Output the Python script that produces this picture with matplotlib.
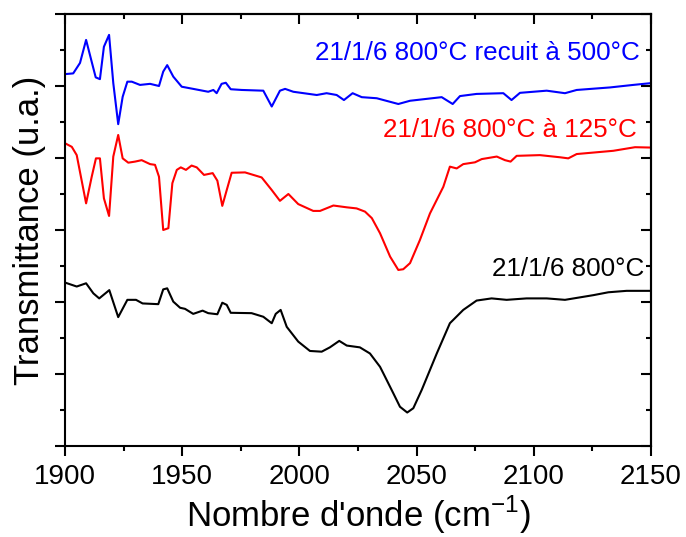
import matplotlib
matplotlib.use("Agg")
from matplotlib import pyplot as plt
from matplotlib.ticker import MultipleLocator

plt.rcParams['font.family'] = ['Liberation Sans', 'DejaVu Sans']
plt.rcParams['mathtext.fontset'] = 'custom'
plt.rcParams['mathtext.rm'] = 'Liberation Sans'

# 21/1/6 800°C recuit à 500°C (bleu)
wn_blue = [1900.0, 1903.5, 1906.4, 1909.0, 1911.4, 1913.1, 1914.9, 1916.6, 1918.8, 1920.6,
           1922.7, 1924.6, 1926.6, 1928.5, 1932.0, 1936.3, 1940.1, 1941.9, 1943.6, 1946.2,
           1949.8, 1954.7, 1961.1, 1963.3, 1964.7, 1966.8, 1968.6, 1970.7, 1975.4, 1984.6,
           1988.2, 1991.7, 1993.9, 1997.4, 2007.4, 2011.6, 2015.9, 2019.0, 2022.7, 2026.6,
           2033.0, 2042.2, 2047.2, 2060.7, 2065.4, 2068.5, 2075.6, 2087.0, 2090.5, 2094.1,
           2105.5, 2113.3, 2118.3, 2132.5, 2142.4, 2150.0]
t_blue = [10.33, 10.35, 10.64, 11.28, 10.67, 10.24, 10.19, 11.09, 11.42, 10.08,
          8.94, 9.70, 10.12, 10.12, 10.03, 10.06, 10.00, 10.40, 10.58, 10.26,
          9.98, 9.92, 9.84, 9.89, 9.80, 10.06, 10.09, 9.91, 9.89, 9.87,
          9.43, 9.87, 9.92, 9.84, 9.75, 9.80, 9.75, 9.61, 9.80, 9.69,
          9.66, 9.50, 9.59, 9.69, 9.50, 9.72, 9.78, 9.80, 9.61, 9.81,
          9.87, 9.80, 9.89, 9.96, 10.03, 10.08]

# 21/1/6 800°C à 125°C (rouge)
wn_red = [1900.0, 1902.9, 1905.0, 1909.0, 1911.4, 1913.2, 1914.9, 1916.6, 1918.8, 1920.6,
          1922.7, 1924.6, 1927.0, 1929.9, 1932.7, 1936.3, 1938.4, 1940.1, 1941.9, 1944.1,
          1945.8, 1947.7, 1949.4, 1951.6, 1954.0, 1956.2, 1959.3, 1963.0, 1965.0, 1967.1,
          1969.0, 1971.1, 1976.8, 1983.9, 1988.2, 1991.7, 1995.3, 1999.5, 2005.9, 2008.8,
          2014.5, 2020.2, 2024.4, 2028.0, 2030.9, 2034.4, 2038.7, 2042.2, 2044.3, 2047.2,
          2051.4, 2055.7, 2061.4, 2064.2, 2067.1, 2069.9, 2074.9, 2077.8, 2084.2, 2087.7,
          2090.1, 2092.7, 2102.6, 2111.2, 2114.7, 2118.3, 2133.9, 2143.2, 2150.0]
t_red = [8.41, 8.31, 8.08, 6.74, 7.48, 7.99, 7.99, 6.88, 6.39, 8.04,
         8.64, 7.99, 7.87, 7.90, 7.94, 7.83, 7.81, 7.48, 6.00, 6.05,
         7.30, 7.67, 7.74, 7.67, 7.79, 7.74, 7.53, 7.58, 7.37, 6.67,
         7.11, 7.59, 7.60, 7.46, 7.11, 6.81, 7.00, 6.72, 6.53, 6.53,
         6.68, 6.63, 6.60, 6.51, 6.33, 5.91, 5.26, 4.89, 4.91, 5.08,
         5.72, 6.46, 7.20, 7.76, 7.71, 7.83, 7.88, 7.97, 8.04, 7.94,
         7.90, 8.06, 8.08, 8.02, 7.99, 8.11, 8.20, 8.30, 8.29]

# 21/1/6 800°C (noir)
wn_black = [1900.0, 1905.0, 1909.0, 1912.1, 1914.6, 1918.9, 1922.7, 1926.6, 1930.3, 1933.1,
            1939.8, 1941.9, 1943.6, 1946.2, 1949.1, 1951.2, 1954.7, 1958.7, 1961.1, 1965.0,
            1967.1, 1969.0, 1970.7, 1979.6, 1984.6, 1988.2, 1989.9, 1992.0, 1994.6, 1999.5,
            2004.5, 2009.5, 2013.0, 2017.0, 2020.2, 2025.8, 2030.1, 2034.4, 2035.8, 2040.1,
            2042.9, 2046.0, 2048.6, 2052.2, 2058.6, 2064.2, 2069.9, 2075.6, 2082.0, 2088.4,
            2096.9, 2105.5, 2113.3, 2125.4, 2131.8, 2139.6, 2150.0]
t_black = [4.54, 4.43, 4.52, 4.24, 4.10, 4.33, 3.58, 4.06, 4.06, 3.96,
           3.94, 4.35, 4.38, 4.01, 3.84, 3.81, 3.67, 3.76, 3.69, 3.66,
           3.98, 3.92, 3.70, 3.69, 3.59, 3.41, 3.67, 3.78, 3.31, 2.90,
           2.64, 2.62, 2.74, 2.92, 2.79, 2.74, 2.57, 2.20, 2.02, 1.46,
           1.09, 0.93, 1.05, 1.56, 2.57, 3.41, 3.78, 4.04, 4.10, 4.06,
           4.10, 4.10, 4.06, 4.19, 4.27, 4.31, 4.31]

labels = ['21/1/6 800°C recuit à 500°C', '21/1/6 800°C à 125°C', '21/1/6 800°C']
label_x = [2145.3, 2144.0, 2147.0]
label_y = [10.92, 8.78, 4.92]
colors = ['#0000ff', '#ff0000', 'black']

fig = plt.figure(figsize=(6.86, 5.37), dpi=100)
ax = fig.add_axes([65 / 686, 1 - 446 / 537, 586 / 686, 432 / 537])

for x, y, c in zip([wn_blue, wn_red, wn_black], [t_blue, t_red, t_black], colors):
    ax.plot(x, y, color=c, lw=1.5)

for txt, x, y, c in zip(labels, label_x, label_y, colors):
    ax.text(x, y, txt, color=c, fontsize=18.7, ha='right', va='center')

ax.set_xlim(1900, 2150)
ax.set_ylim(0, 12)
ax.xaxis.set_major_locator(MultipleLocator(50))
ax.xaxis.set_minor_locator(MultipleLocator(25))
ax.yaxis.set_major_locator(MultipleLocator(2))
ax.yaxis.set_minor_locator(MultipleLocator(1))
ax.set_yticklabels([])
ax.tick_params(which='major', direction='out', length=7, width=1.5, labelsize=20)
ax.tick_params(which='minor', direction='out', length=3.5, width=1.5)
ax.tick_params(axis='x', pad=6)
for s in ax.spines.values():
    s.set_linewidth(1.5)

# ticks miroir vers l'intérieur (haut / droite)
top = ax.secondary_xaxis('top')
top.xaxis.set_major_locator(MultipleLocator(50))
top.xaxis.set_minor_locator(MultipleLocator(25))
right = ax.secondary_yaxis('right')
right.yaxis.set_major_locator(MultipleLocator(2))
right.yaxis.set_minor_locator(MultipleLocator(1))
for sec in (top, right):
    sec.tick_params(which='major', direction='in', length=7, width=1.5,
                    labeltop=False, labelright=False)
    sec.tick_params(which='minor', direction='in', length=3.5, width=1.5)
    for s in sec.spines.values():
        s.set_linewidth(1.5)

ax.set_xlabel("Nombre d'onde (cm$^{\\mathregular{-1}}$)", fontsize=25, labelpad=3)
ax.set_ylabel('Transmittance (u.a.)', fontsize=25, labelpad=3)

fig.savefig('out.png', dpi=100)
